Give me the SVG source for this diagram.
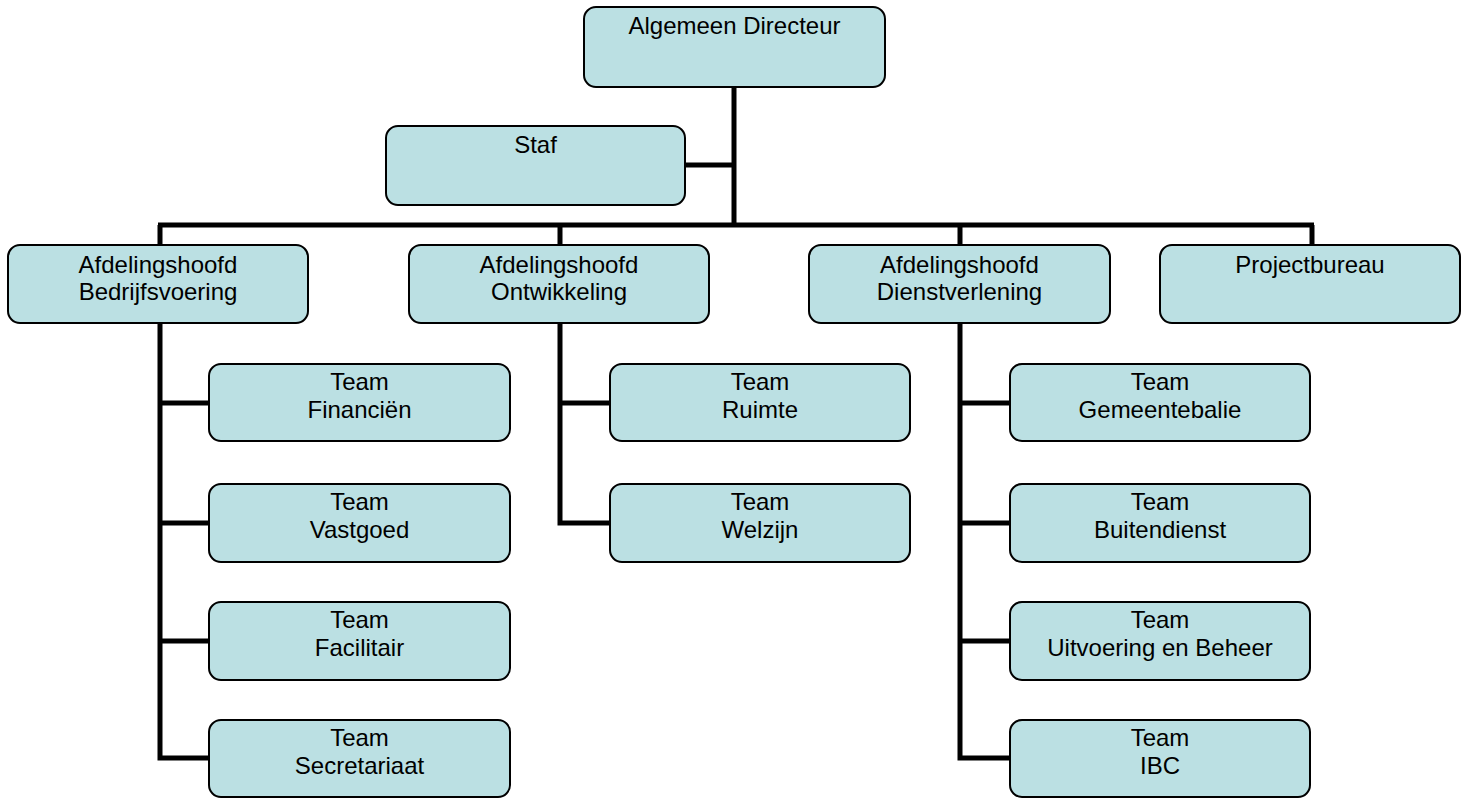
<svg xmlns="http://www.w3.org/2000/svg" width="1468" height="798" viewBox="0 0 1468 798">
<style>
.box{fill:#BBE0E3;stroke:#000;stroke-width:2}
.t{font-family:"Liberation Sans",Arial,sans-serif;font-size:24px;fill:#000;text-anchor:middle}
.c{fill:none;stroke:#000;stroke-width:5}
</style>
<rect width="1468" height="798" fill="#fff"/>
<g id="connectors">
<path class="c" d="M734,87 V227 M685,165 H734 M158,225 H1314 M160,225 V245 M560,225 V245 M960,225 V245 M1312,225 V245"/>
<path class="c" d="M160,323 V758 H209 M160,403 H209 M160,523 H209 M160,641 H209"/>
<path class="c" d="M560,323 V523 H610 M560,403 H610"/>
<path class="c" d="M960,323 V758 H1010 M960,403 H1010 M960,523 H1010 M960,641 H1010"/>
</g>
<g id="n_directeur"><rect class="box" x="584" y="7" width="301" height="80" rx="12"/><text class="t" x="734.5" y="34">Algemeen Directeur</text></g>
<g id="n_staf"><rect class="box" x="386" y="126" width="299" height="79" rx="12"/><text class="t" x="535.5" y="153">Staf</text></g>
<g id="n_bedrijf"><rect class="box" x="8" y="245" width="300" height="78" rx="12"/><text class="t" x="158" y="273">Afdelingshoofd</text><text class="t" x="158" y="300">Bedrijfsvoering</text></g>
<g id="n_ontw"><rect class="box" x="409" y="245" width="300" height="78" rx="12"/><text class="t" x="559" y="273">Afdelingshoofd</text><text class="t" x="559" y="300">Ontwikkeling</text></g>
<g id="n_dienst"><rect class="box" x="809" y="245" width="301" height="78" rx="12"/><text class="t" x="959.5" y="273">Afdelingshoofd</text><text class="t" x="959.5" y="300">Dienstverlening</text></g>
<g id="n_project"><rect class="box" x="1160" y="245" width="300" height="78" rx="12"/><text class="t" x="1310" y="273">Projectbureau</text></g>
<g id="n_fin"><rect class="box" x="209" y="364" width="301" height="77" rx="12"/><text class="t" x="359.5" y="390">Team</text><text class="t" x="359.5" y="418">Financiën</text></g>
<g id="n_vast"><rect class="box" x="209" y="484" width="301" height="78" rx="12"/><text class="t" x="359.5" y="510">Team</text><text class="t" x="359.5" y="538">Vastgoed</text></g>
<g id="n_fac"><rect class="box" x="209" y="602" width="301" height="78" rx="12"/><text class="t" x="359.5" y="628">Team</text><text class="t" x="359.5" y="656">Facilitair</text></g>
<g id="n_sec"><rect class="box" x="209" y="720" width="301" height="77" rx="12"/><text class="t" x="359.5" y="746">Team</text><text class="t" x="359.5" y="774">Secretariaat</text></g>
<g id="n_ruimte"><rect class="box" x="610" y="364" width="300" height="77" rx="12"/><text class="t" x="760" y="390">Team</text><text class="t" x="760" y="418">Ruimte</text></g>
<g id="n_welzijn"><rect class="box" x="610" y="484" width="300" height="78" rx="12"/><text class="t" x="760" y="510">Team</text><text class="t" x="760" y="538">Welzijn</text></g>
<g id="n_gem"><rect class="box" x="1010" y="364" width="300" height="77" rx="12"/><text class="t" x="1160" y="390">Team</text><text class="t" x="1160" y="418">Gemeentebalie</text></g>
<g id="n_buiten"><rect class="box" x="1010" y="484" width="300" height="78" rx="12"/><text class="t" x="1160" y="510">Team</text><text class="t" x="1160" y="538">Buitendienst</text></g>
<g id="n_uitv"><rect class="box" x="1010" y="602" width="300" height="78" rx="12"/><text class="t" x="1160" y="628">Team</text><text class="t" x="1160" y="656">Uitvoering en Beheer</text></g>
<g id="n_ibc"><rect class="box" x="1010" y="720" width="300" height="77" rx="12"/><text class="t" x="1160" y="746">Team</text><text class="t" x="1160" y="774">IBC</text></g>
</svg>
